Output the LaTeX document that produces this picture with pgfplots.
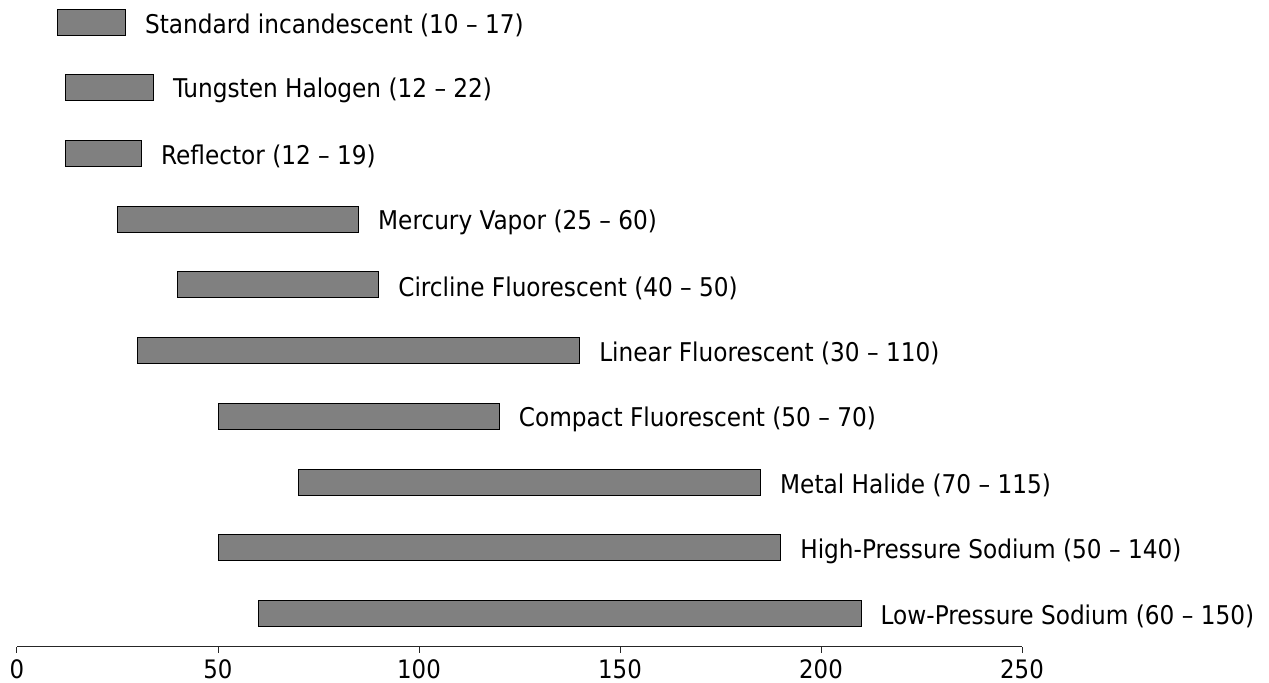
\documentclass[border=0pt]{standalone}
\usepackage{fontspec}
\setmainfont{DejaVu Sans Condensed}
\usepackage{pgfplots}
\usepackage{pgfplotstable}
\pgfplotsset{compat=1.18}
\pgfplotstableread[col sep=comma]{
y,start,len,label
9,10,17,{Standard incandescent (10 -- 17)}
8,12,22,{Tungsten Halogen (12 -- 22)}
7,12,19,{Reflector (12 -- 19)}
6,25,60,{Mercury Vapor (25 -- 60)}
5,40,50,{Circline Fluorescent (40 -- 50)}
4,30,110,{Linear Fluorescent (30 -- 110)}
3,50,70,{Compact Fluorescent (50 -- 70)}
2,70,115,{Metal Halide (70 -- 115)}
1,50,140,{High-Pressure Sodium (50 -- 140)}
0,60,150,{Low-Pressure Sodium (60 -- 150)}
}\lamps
\begin{document}
\begin{tikzpicture}
\useasboundingbox (-8.5pt,-18.15pt) rectangle (626pt,323.35pt);
\begin{axis}[
  at={(0,0)}, anchor=south west,
  scale only axis,
  width=502.5pt, height=323.35pt,
  xmin=0, xmax=250, ymin=-0.502, ymax=9.335,
  xbar stacked, bar width=13pt,
  axis x line*=bottom, axis y line=none,
  x axis line style={line width=0.5pt, color=black!85},
  xtick={0,50,100,150,200,250},
  xtick align=outside, major tick length=3pt,
  xtick style={line width=0.5pt, color=black!85},
  ytick=\empty,
  font=\fontsize{12.9}{15}\selectfont,
  ticklabel style={font=\fontsize{12.7}{15}\selectfont},
  /pgf/number format/assume math mode=true,
  clip=false,
]
\addplot[draw=none, fill=none, forget plot] table[x=start, y=y] {\lamps};
\addplot[fill=black!50, draw=black, line width=0.5pt, forget plot,
  visualization depends on={\thisrow{len} \as \blen},
  nodes near coords, point meta=explicit symbolic,
  every node near coord/.append style={anchor=west, inner sep=0pt,
     xshift=\blen*1.005pt+9.5pt, yshift=-1.5pt, text=black}]
  table[x=len, y=y, meta=label] {\lamps};
\end{axis}
\end{tikzpicture}
\end{document}
